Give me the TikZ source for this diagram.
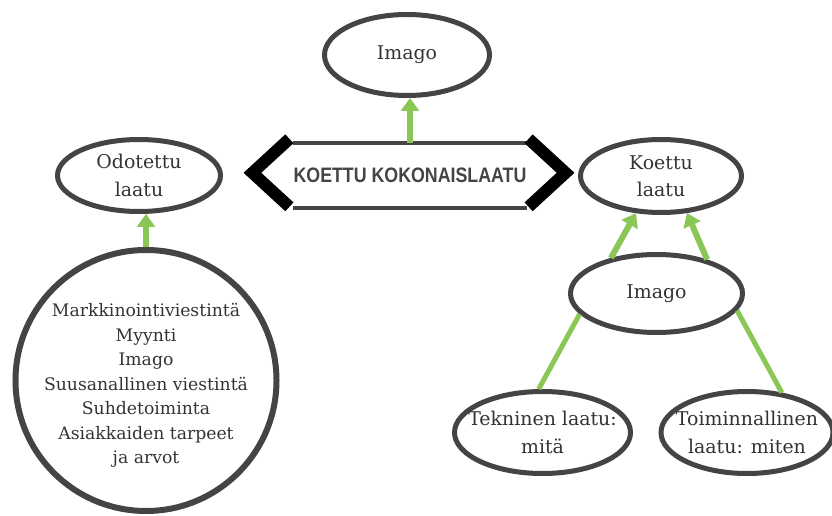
\documentclass[tikz,border=0pt]{standalone}
\usepackage{fontspec}
\setmainfont{DejaVu Serif}
\newfontfamily\condfont[FakeStretch=0.85]{Liberation Sans}
\usetikzlibrary{shapes.geometric,arrows.meta,calc}
\definecolor{reuna}{HTML}{444444}
\definecolor{vihrea}{HTML}{8BC756}
\definecolor{teksti}{HTML}{333333}

\begin{document}
\begin{tikzpicture}[x=1bp,y=-1bp,
  soikio/.style={ellipse,draw=reuna,line width=5bp,text=teksti,align=center,inner sep=0pt,inner xsep=-30bp,font=\fontsize{19}{27.5}\selectfont},
  nuoli/.style={draw=vihrea,line width=6bp,-{Triangle[width=18bp,length=13bp]}},
  viiva/.style={draw=vihrea,line width=5bp},
  ketju/.style={draw=black,line width=12bp,line join=miter}]
\useasboundingbox (0,0) rectangle (832,516);

\node[soikio,minimum width=165bp,minimum height=81bp] (imago) at (407,55) {Imago};
\node[rectangle,inner sep=0pt,minimum width=224bp,minimum height=65bp,text=reuna,font=\condfont\bfseries\fontsize{21}{21}\selectfont] (koko) at (410,175.5) {KOETTU KOKONAISLAATU};
\draw[reuna,line width=4bp] (koko.north west) -- (koko.north east);
\draw[reuna,line width=4bp] (koko.south west) -- (koko.south east);
\draw[ketju] ($(koko.north west)+(-4,-4)$) -- ++(-37,34) -- ++(37,34);
\draw[ketju] ($(koko.north east)+(2,-4)$) -- ++(37,34) -- ++(-37,34);

\node[soikio,minimum width=163bp,minimum height=72bp] (odotettu) at (139,175.5) {Odotettu\\laatu};
\node[circle,draw=reuna,line width=6bp,minimum size=261bp,inner sep=0pt,
  label={[text=teksti,align=center,yshift=-5bp,font=\fontsize{17.3}{24.5}\selectfont]center:{Markkinointiviestintä\\Myynti\\Imago\\Suusanallinen viestintä\\Suhdetoiminta\\Asiakkaiden tarpeet\\ja arvot}}] (ympyra) at (146,380.5) {};

\node[soikio,minimum width=161bp,minimum height=73bp] (koettu) at (661,176) {Koettu\\laatu};
\node[soikio,minimum width=172bp,minimum height=78bp] (imago2) at (656.5,293.5) {Imago};
\node[soikio,minimum width=176bp,minimum height=82bp] (tekninen) at (542.5,432.5) {Tekninen laatu:\\mitä};
\node[soikio,minimum width=172bp,minimum height=82bp] (toiminnallinen) at (747,432.5) {Toiminnallinen\\laatu: miten};

\draw[nuoli] (koko.north) -- (koko.north |- imago.south);
\draw[nuoli] (ympyra.north) -- (ympyra.north |- odotettu.south);
\draw[nuoli] (imago2.142) -- (koettu.236);
\draw[nuoli] (imago2.34) -- (koettu.305);
\draw[viiva] (tekninen.95) -- (imago2.195);
\draw[viiva] (toiminnallinen.49) -- (imago2.348);
\end{tikzpicture}
\end{document}
